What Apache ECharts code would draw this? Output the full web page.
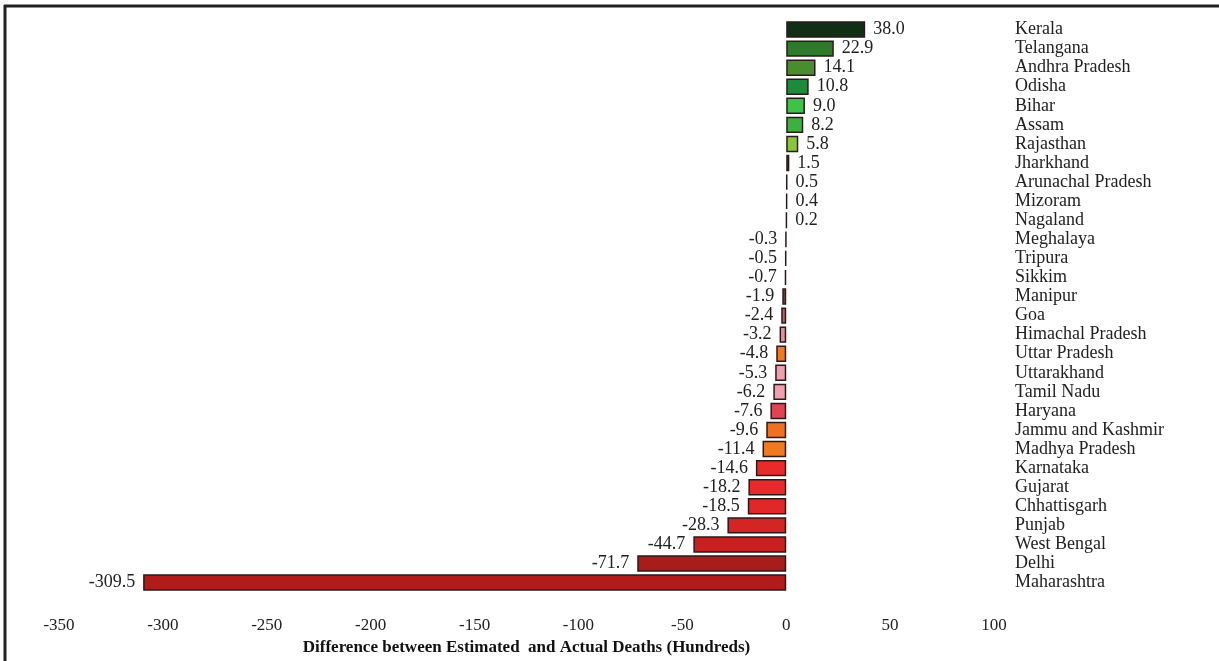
<!DOCTYPE html>
<html>
<head>
<meta charset="utf-8">
<script src="https://cdn.jsdelivr.net/npm/echarts@6/dist/echarts.min.js"></script>
<style>
html,body{margin:0;padding:0;background:#fff;}
#c{width:1219px;height:661px;}
</style>
</head>
<body>
<div id="c"></div>
<script>
const states = ["Kerala","Telangana","Andhra Pradesh","Odisha","Bihar","Assam","Rajasthan","Jharkhand","Arunachal Pradesh","Mizoram","Nagaland","Meghalaya","Tripura","Sikkim","Manipur","Goa","Himachal Pradesh","Uttar Pradesh","Uttarakhand","Tamil Nadu","Haryana","Jammu and Kashmir","Madhya Pradesh","Karnataka","Gujarat","Chhattisgarh","Punjab","West Bengal","Delhi","Maharashtra"];
const values = [38.0,22.9,14.1,10.8,9.0,8.2,5.8,1.5,0.5,0.4,0.2,-0.3,-0.5,-0.7,-1.9,-2.4,-3.2,-4.8,-5.3,-6.2,-7.6,-9.6,-11.4,-14.6,-18.2,-18.5,-28.3,-44.7,-71.7,-309.5];
const barColors = ["#112e17","#2f7a2c","#4a8c30","#1f8a3c","#3dc24a","#3faf40","#8cc43a","#2a6a2a","#9aa89a","#a8b0a8","#b0b8b0","#b8a8a8","#b8a0a0","#b09898","#7a5050","#c06060","#e490a0","#f07a22","#f0a0aa","#f0a0aa","#e04452","#f07022","#f07a22","#e82a2a","#e82a2a","#e02828","#d42424","#c82020","#a81c1c","#b01c1c"];
const xMin = -350, xMax = 100, xStep = 50;

const chart = echarts.init(document.getElementById('c'), null, {renderer:'canvas'});
const serif = '"Liberation Serif","DejaVu Serif",serif';
chart.setOption({
  animation:false,
  backgroundColor:'#fff',
  grid:{left:59,width:935,top:20,height:601,containLabel:false},
  xAxis:{
    type:'value',min:xMin,max:xMax,interval:xStep,
    axisLine:{show:false},axisTick:{show:false},splitLine:{show:false},
    axisLabel:{fontFamily:serif,fontSize:17,color:'#222',margin:25},
    name:'Difference between Estimated  and Actual Deaths (Hundreds)',
    nameLocation:'middle',nameGap:41,
    nameTextStyle:{fontFamily:serif,fontSize:17,fontWeight:'bold',color:'#111'}
  },
  yAxis:{
    type:'category',data:states,inverse:true,position:'right',
    axisLine:{show:false},axisTick:{show:false},splitLine:{show:false},
    axisLabel:{interval:0,fontFamily:serif,fontSize:18,color:'#222',align:'left',margin:21}
  },
  series:[{
    type:'bar',
    data:values.map((v,i)=>({value:v,itemStyle:{color:barColors[i]},
      label:{position: v>=0?'right':'left'}})),
    barCategoryGap:'14%',
    itemStyle:{borderColor:'#2a1a1a',borderWidth:1.5},
    label:{show:true,fontFamily:serif,fontSize:18,color:'#222',distance:8,
      formatter:p=>p.value.toFixed(1)}
  }],
  graphic:[
    {type:'line',shape:{x1:4,y1:6,x2:1219,y2:6},style:{stroke:'#222',lineWidth:3}},
    {type:'line',shape:{x1:5,y1:5,x2:5,y2:661},style:{stroke:'#222',lineWidth:3}}
  ]
});
</script>
</body>
</html>
